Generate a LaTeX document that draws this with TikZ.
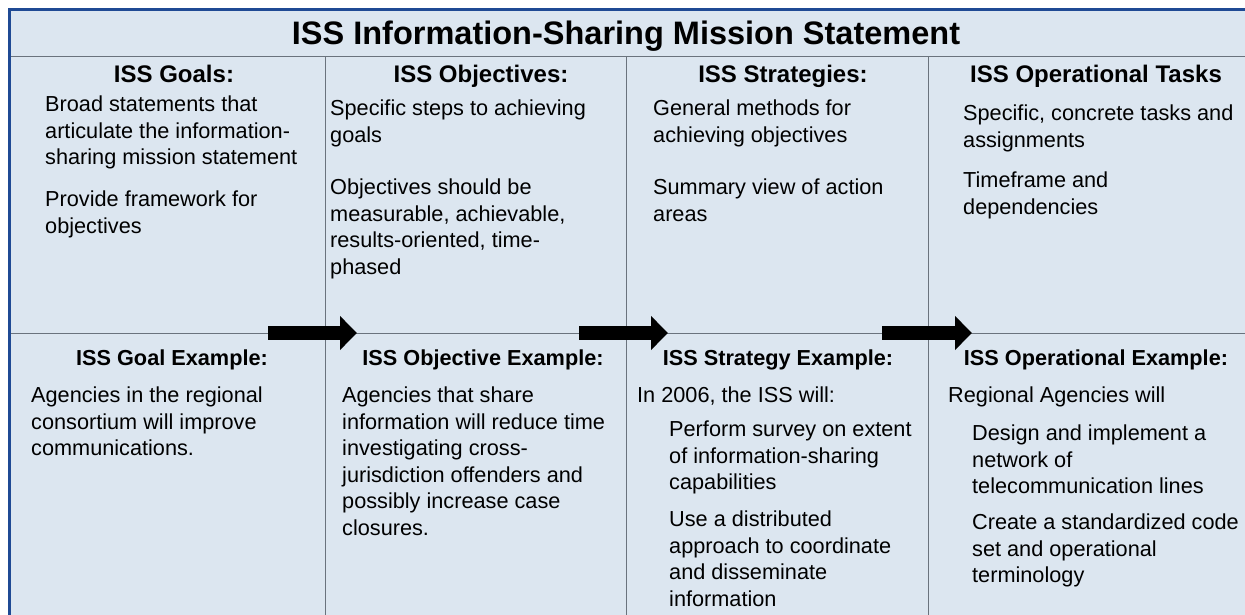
\documentclass[tikz,border=0pt]{standalone}
\usepackage{fontspec}
\setmainfont{Liberation Sans}
\usepackage{xcolor}
\usepackage{tikz}
\usetikzlibrary{arrows.meta}
\definecolor{FrameBlue}{HTML}{1F4A94}
\definecolor{PanelFill}{HTML}{DCE6F0}
\definecolor{GridGray}{HTML}{6A737D}

\begin{document}
\begin{tikzpicture}[
            x=1bp, y=-1bp,
            title/.style={font=\bfseries\fontsize{32.5bp}{36bp}\selectfont, anchor=base, inner sep=0pt},
            head/.style={font=\bfseries\fontsize{24bp}{28bp}\selectfont, anchor=base, inner sep=0pt},
            exhead/.style={head, font=\bfseries\fontsize{21.7bp}{26bp}\selectfont},
            body/.style={font=\fontsize{21.7bp}{26.5bp}\selectfont, align=left, anchor=north west, inner sep=0pt},
            grid/.style={draw=GridGray, line width=1bp},
            push/.style={line width=13bp, black, -{Triangle[length=17bp, width=33bp]}}
        ]
            \path[use as bounding box] (0,0) rectangle (1245,615);
            \clip (0,0) rectangle (1245,615);

            % panel and grid
            \draw[FrameBlue, line width=2.8bp, fill=PanelFill] (9.5,9.5) rectangle (1280,640);
            \draw[grid] (11,57) -- (1245,57);
            \draw[grid] (11,333) -- (1245,333);
            \foreach \x in {325,626,928}
                \draw[grid] (\x,57) -- (\x,615);

            \node[title] (mission) at (626,44.5) {ISS Information-Sharing Mission Statement};

            % top row
            \node[head] (goals) at (174,83) {ISS Goals:};
            \node[head] (objectives) at (481,83) {ISS Objectives:};
            \node[head] (strategies) at (783,83) {ISS Strategies:};
            \node[head] (tasks) at (1096,83) {ISS Operational Tasks};

            \node[body] (goalsA) at (45,96) {Broad statements that\\articulate the information-\\sharing mission statement};
            \node[body] (goalsB) at (45,191) {Provide framework for\\objectives};
            \node[body] (objA) at (330,100) {Specific steps to achieving\\goals};
            \node[body] (objB) at (330,179) {Objectives should be\\measurable, achievable,\\results-oriented, time-\\phased};
            \node[body] (stratA) at (653,100) {General methods for\\achieving objectives};
            \node[body] (stratB) at (653,179) {Summary view of action\\areas};
            \node[body] (tasksA) at (963,105) {Specific, concrete tasks and\\assignments};
            \node[body] (tasksB) at (963,172) {Timeframe and\\dependencies};

            % bottom row
            \node[exhead] (goalEx) at (172,366) {ISS Goal Example:};
            \node[exhead] (objEx) at (483,366) {ISS Objective Example:};
            \node[exhead] (stratEx) at (778,366) {ISS Strategy Example:};
            \node[exhead] (opEx) at (1096,366) {ISS Operational Example:};

            \node[body] (goalExA) at (31,387) {Agencies in the regional\\consortium will improve\\communications.};
            \node[body] (objExA) at (342,387) {Agencies that share\\information will reduce time\\investigating cross-\\jurisdiction offenders and\\possibly increase case\\closures.};
            \node[body] (stratExA) at (637,387) {In 2006, the ISS will:};
            \node[body] (stratExB) at (669,421) {Perform survey on extent\\of information-sharing\\capabilities};
            \node[body] (stratExC) at (669,511) {Use a distributed\\approach to coordinate\\and disseminate\\information};
            \node[body] (opExA) at (948,387) {Regional Agencies will};
            \node[body] (opExB) at (972,425) {Design and implement a\\network of\\telecommunication lines};
            \node[body] (opExC) at (972,514) {Create a standardized code\\set and operational\\terminology};

            % arrows across the dividers
            \coordinate (goalOut) at (268,333);
            \coordinate (objIn) at (357,333);
            \coordinate (objOut) at (579,333);
            \coordinate (stratIn) at (668,333);
            \coordinate (stratOut) at (882,333);
            \coordinate (opIn) at (972,333);
            \draw[push] (goalOut) -- (objIn);
            \draw[push] (objOut) -- (stratIn);
            \draw[push] (stratOut) -- (opIn);

        \end{tikzpicture}
\end{document}
